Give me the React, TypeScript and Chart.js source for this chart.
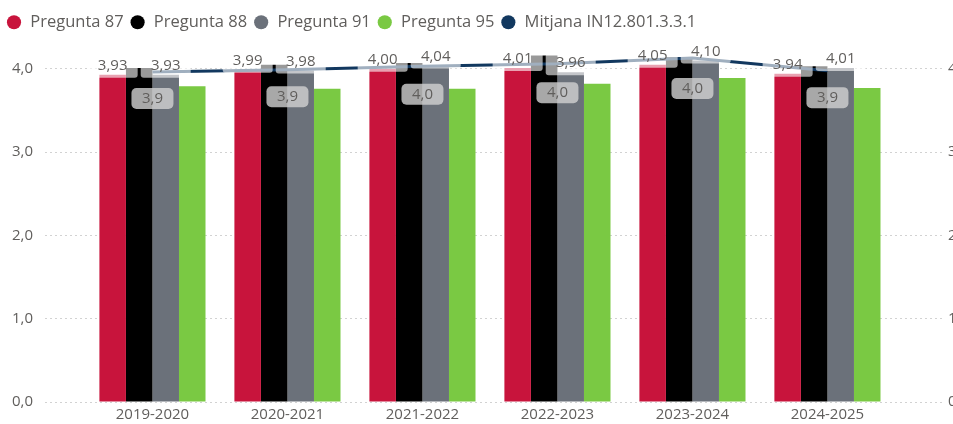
import { useEffect, useRef } from 'react';
import { Chart, registerables } from 'chart.js';

Chart.register(...registerables);

const categories = ['2019-2020', '2020-2021', '2021-2022', '2022-2023', '2023-2024', '2024-2025'];
const pregunta87 = [3.93, 3.99, 4.0, 4.01, 4.05, 3.94];
const pregunta88 = [4.01, 4.05, 4.07, 4.16, 4.14, 4.03];
const pregunta91 = [3.93, 3.98, 4.04, 3.96, 4.1, 4.01];
const pregunta95 = [3.79, 3.76, 3.76, 3.82, 3.89, 3.77];
const mitjana = [3.92, 3.94, 3.97, 3.99, 4.04, 3.93];

const seriesNames = ['Pregunta 87', 'Pregunta 88', 'Pregunta 91', 'Pregunta 95', 'Mitjana IN12.801.3.3.1'];
const seriesColors = ['#C8143C', '#000000', '#6B717A', '#7AC943', '#12385F'];

const FONT = "'Segoe UI', 'Open Sans', sans-serif";
const TEXT = '#605E5C';

const toXY = (arr: number[]) => arr.map((y, i) => ({ x: i, y }));
const fmt = (v: number, d: number) => v.toFixed(d).replace('.', ',');

const labelPlugin = {
  id: 'valueLabels',
  afterDatasetsDraw(chart: any) {
    const ctx = chart.ctx as CanvasRenderingContext2D;
    ctx.save();
    const barLabelSets = [0, 2];
    barLabelSets.forEach((di) => {
      const meta = chart.getDatasetMeta(di);
      meta.data.forEach((el: any) => {
        ctx.fillStyle = 'rgba(255,255,255,0.6)';
        ctx.beginPath();
        ctx.roundRect(el.x - 25, el.y - 19, 50, 22, 3);
        ctx.fill();
      });
    });
    ctx.font = `15px ${FONT}`;
    ctx.textAlign = 'center';
    ctx.textBaseline = 'middle';
    ctx.fillStyle = TEXT;
    barLabelSets.forEach((di) => {
      const meta = chart.getDatasetMeta(di);
      const data = chart.data.datasets[di].data as any[];
      meta.data.forEach((el: any, j: number) => {
        ctx.fillText(fmt(data[j].y, 2), el.x, el.y - 9);
      });
    });
    const lineIdx = 4;
    const lmeta = chart.getDatasetMeta(lineIdx);
    const ldata = chart.data.datasets[lineIdx].data as any[];
    ctx.font = `15px ${FONT}`;
    lmeta.data.forEach((el: any, j: number) => {
      const v = ldata[j].y;
      const cy = chart.scales.y.getPixelForValue(v) + 23;
      ctx.fillStyle = 'rgba(210,210,210,0.8)';
      ctx.beginPath();
      ctx.roundRect(el.x - 21, cy - 10.5, 42, 21, 5);
      ctx.fill();
      ctx.fillStyle = TEXT;
      ctx.fillText(fmt(v, 1), el.x, cy);
    });
    ctx.restore();
  },
};

export default function App() {
  const ref = useRef<HTMLCanvasElement | null>(null);

  useEffect(() => {
    if (!ref.current) return;
    const barSets = [pregunta87, pregunta88, pregunta91, pregunta95].map((arr, i) => ({
      type: 'bar' as const,
      label: seriesNames[i],
      data: toXY(arr),
      backgroundColor: seriesColors[i],
      borderWidth: 0,
      categoryPercentage: 0.786,
      barPercentage: 1,
      yAxisID: 'y',
      order: 1,
    }));
    const chart = new Chart(ref.current, {
      type: 'bar',
      data: {
        datasets: [
          ...barSets,
          {
            type: 'line' as const,
            label: seriesNames[4],
            data: toXY(mitjana),
            borderColor: seriesColors[4],
            backgroundColor: seriesColors[4],
            borderWidth: 3,
            pointRadius: 0,
            fill: false,
            tension: 0,
            yAxisID: 'y1',
            order: 0,
          } as any,
        ],
      },
      options: {
        animation: false,
        responsive: true,
        maintainAspectRatio: false,
        events: [],
        layout: { padding: { top: 8, bottom: 0, left: 0, right: 0 } },
        plugins: {
          tooltip: { enabled: false },
          legend: {
            position: 'top',
            align: 'start',
            labels: {
              usePointStyle: true,
              pointStyle: 'circle',
              boxWidth: 16,
              boxHeight: 10,
              padding: 6,
              color: TEXT,
              font: { size: 16.5, family: FONT },
              sort: (a: any, b: any) => a.datasetIndex - b.datasetIndex,
              generateLabels: (c: any) =>
                (Chart.defaults.plugins.legend.labels as any)
                  .generateLabels(c)
                  .map((l: any) => ({ ...l, lineWidth: 0, strokeStyle: 'rgba(0,0,0,0)' })),
            },
          },
        },
        scales: {
          x: {
            type: 'linear',
            offset: false,
            min: -0.796,
            max: 5.856,
            grid: { display: false, drawTicks: false, offset: false },
            border: { display: false },
            ticks: {
              stepSize: 1,
              autoSkip: false,
              maxRotation: 0,
              includeBounds: false,
              padding: 4,
              color: TEXT,
              font: { size: 15, family: FONT },
              callback: (v: any) => categories[v as number] ?? '',
            },
            afterBuildTicks: (s: any) => {
              s.ticks = s.ticks.filter(
                (t: any) => Number.isInteger(t.value) && t.value >= 0 && t.value < categories.length
              );
            },
            afterFit: (s: any) => {
              s.height = 22;
            },
          },
          y: {
            position: 'left',
            min: 0,
            max: 4.34,
            grid: { color: '#D2D2D2', drawTicks: false, lineWidth: 1 },
            border: { display: false, dash: [2, 3] },
            ticks: {
              stepSize: 1,
              includeBounds: false,
              padding: 12,
              color: TEXT,
              font: { size: 15, family: FONT },
              callback: (v: any) => fmt(v as number, 1),
            },
            afterFit: (s: any) => {
              s.width = 45;
            },
          },
          y1: {
            position: 'right',
            display: false,
            min: 1.092,
            max: 4.19,
          },
          y2: {
            position: 'right',
            min: 0,
            max: 4.34,
            grid: { display: false, drawTicks: false },
            border: { display: false },
            ticks: {
              stepSize: 1,
              includeBounds: false,
              padding: 5,
              color: TEXT,
              font: { size: 15, family: FONT },
              callback: (v: any) => fmt(v as number, 1),
            },
            afterFit: (s: any) => {
              s.width = 32;
            },
          },
        } as any,
      },
      plugins: [labelPlugin],
    });
    return () => chart.destroy();
  }, []);

  return (
    <div style={{ position: 'fixed', left: 0, top: 0, width: 953, height: 424, overflow: 'hidden', background: '#fff' }}>
      <div style={{ width: 975, height: 424, position: 'relative' }}>
        <canvas ref={ref} />
      </div>
    </div>
  );
}
